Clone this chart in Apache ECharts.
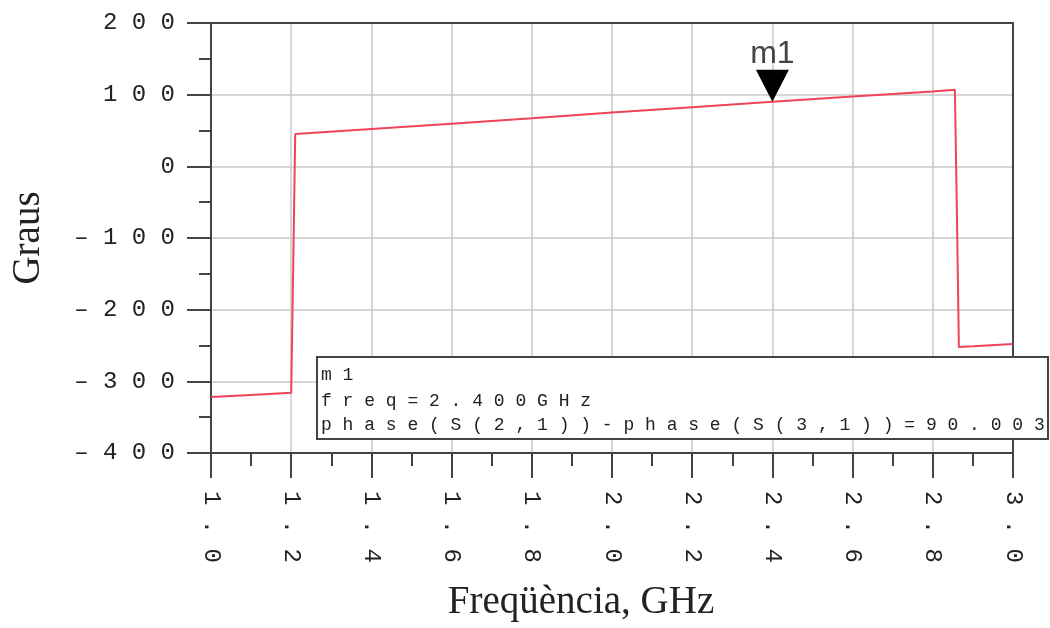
<!DOCTYPE html>
<html>
<head>
<meta charset="utf-8">
<script src="https://cdn.jsdelivr.net/npm/echarts@6/dist/echarts.min.js"></script>
<style>html,body{margin:0;padding:0;background:#fff;}#c{width:1050px;height:628px;}</style>
</head>
<body>
<div id="c"></div>
<script>
// Data
var freqGHz = [1.0, 1.1, 1.2, 1.205, 1.21, 1.4, 1.6, 1.8, 2.0, 2.2, 2.4, 2.6, 2.8, 2.855, 2.86, 2.865, 2.9, 3.0];
var phaseDiff = [-322, -319, -316, -140, 45, 52, 59.5, 67, 75, 82.5, 90.003, 97.5, 104.5, 107, -60, -252, -251, -248];
var markerFreq = 2.4;
var markerValue = 90.003;
var markerName = 'm1';
var markerLines = ['m1', 'freq=2.400GHz', 'phase(S(2,1))-phase(S(3,1))=90.003'];
var yTicks = { min: -400, max: 200, interval: 100 };
var xTicks = { min: 1.0, max: 3.0, interval: 0.2 };

function spaced(s) { return s.split('').join(' '); }

var points = freqGHz.map(function (f, i) { return [f, phaseDiff[i]]; });

var chart = echarts.init(document.getElementById('c'));
var axisColor = '#444';
var gridColor = '#c8c8c8';
var labelColor = '#222';

chart.setOption({
  animation: false,
  backgroundColor: '#fff',
  grid: { left: 211, right: 37, top: 23, bottom: 175 },
  xAxis: [{
    type: 'value',
    min: xTicks.min, max: xTicks.max, interval: xTicks.interval,
    name: 'Freqüència, GHz',
    nameLocation: 'middle',
    nameGap: 130,
    nameTextStyle: { fontFamily: 'Liberation Serif', fontSize: 39, color: '#222', padding: [0, 62, 0, 0] },
    axisLine: { show: true, onZero: false, lineStyle: { color: axisColor, width: 2 } },
    axisTick: { show: true, inside: false, length: 25, lineStyle: { color: axisColor, width: 2 } },
    minorTick: { show: true, splitNumber: 2, length: 13, lineStyle: { color: axisColor, width: 2 } },
    splitLine: { show: true, lineStyle: { color: gridColor, width: 1.5 } },
    axisLabel: {
      rotate: -90, margin: 38,
      fontFamily: 'Liberation Mono', fontSize: 24, color: labelColor,
      formatter: function (v) { return spaced(v.toFixed(1)); }
    }
  }, {
    type: 'value', position: 'top',
    min: xTicks.min, max: xTicks.max, interval: xTicks.interval,
    axisLine: { show: true, onZero: false, lineStyle: { color: axisColor, width: 2 } },
    axisTick: { show: false }, axisLabel: { show: false }, splitLine: { show: false }
  }],
  yAxis: [{
    type: 'value',
    min: yTicks.min, max: yTicks.max, interval: yTicks.interval,
    name: 'Graus',
    nameLocation: 'middle',
    nameGap: 163,
    nameTextStyle: { fontFamily: 'Liberation Serif', fontSize: 39, color: '#222' },
    axisLine: { show: true, lineStyle: { color: axisColor, width: 2 } },
    axisTick: { show: true, inside: false, length: 24, lineStyle: { color: axisColor, width: 2 } },
    minorTick: { show: true, splitNumber: 2, length: 12, lineStyle: { color: axisColor, width: 2 } },
    splitLine: { show: true, lineStyle: { color: gridColor, width: 1.5 } },
    axisLabel: {
      margin: 36,
      fontFamily: 'Liberation Mono', fontSize: 24, color: labelColor,
      formatter: function (v) {
        var s = Math.abs(v).toString();
        return (v < 0 ? '– ' : '') + spaced(s);
      }
    }
  }, {
    type: 'value', position: 'right',
    min: yTicks.min, max: yTicks.max, interval: yTicks.interval,
    axisLine: { show: true, onZero: false, lineStyle: { color: axisColor, width: 2 } },
    axisTick: { show: false }, axisLabel: { show: false }, splitLine: { show: false }
  }],
  series: [{
    type: 'line',
    data: points,
    showSymbol: false,
    symbol: 'none',
    lineStyle: { color: '#ef4459', width: 2 },
    markPoint: {
      symbol: 'triangle',
      symbolRotate: 180,
      symbolSize: [33, 32],
      symbolOffset: [0, '-50%'],
      itemStyle: { color: '#000' },
      label: {
        show: true, position: 'top', distance: 0,
        formatter: markerName,
        fontFamily: 'Liberation Sans', fontSize: 32, color: '#444'
      },
      data: [{ coord: [markerFreq, markerValue] }]
    }
  }],
  graphic: [{
    type: 'group',
    left: 316, top: 356,
    z: 100, zlevel: 1,
    children: [
      { type: 'rect', z: 100, zlevel: 1, shape: { x: 0, y: 0, width: 731, height: 82 }, style: { fill: '#fff', stroke: axisColor, lineWidth: 2 } },
      { type: 'text', z: 101, zlevel: 1, x: 4, y: 18, style: { text: spaced(markerLines[0]), font: '18px "Liberation Mono"', fill: '#222', verticalAlign: 'middle' } },
      { type: 'text', z: 101, zlevel: 1, x: 4, y: 44, style: { text: spaced(markerLines[1]), font: '18px "Liberation Mono"', fill: '#222', verticalAlign: 'middle' } },
      { type: 'text', z: 101, zlevel: 1, x: 4, y: 68, style: { text: spaced(markerLines[2]), font: '18px "Liberation Mono"', fill: '#222', verticalAlign: 'middle' } }
    ]
  }]
});
</script>
</body>
</html>
